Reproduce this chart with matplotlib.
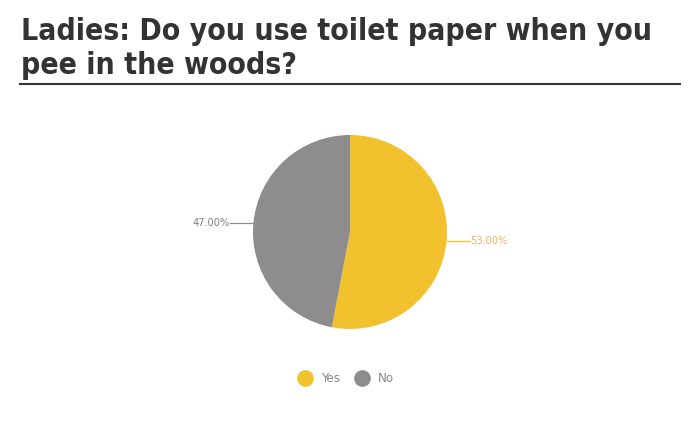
import numpy as np
import matplotlib
matplotlib.use('Agg')
import matplotlib.pyplot as plt
from matplotlib.lines import Line2D

title_lines = ['Ladies: Do you use toilet paper when you', 'pee in the woods?']
labels = ['Yes', 'No']
values = [53.0, 47.0]
colors = ['#F2C12E', '#8E8C8D']
label_colors = ['#F0B35E', '#7F7F7F']

W, H = 700, 422
fig = plt.figure(figsize=(W / 100, H / 100), dpi=100)
fig.patch.set_facecolor('white')

fnt = ['DejaVu Sans']
renderer = fig.canvas.get_renderer()

# title: two lines on fixed baselines, size fitted to the reference width
t1 = fig.text(21 / W, 1 - 40 / H, title_lines[0], ha='left', va='baseline', fontsize=24,
              fontweight='bold', fontstretch='condensed', color='#333333', family=fnt)
w1 = t1.get_window_extent(renderer).width
size = 24 * 633 / w1
t1.set_fontsize(size)
fig.text(21 / W, 1 - 74 / H, title_lines[1], ha='left', va='baseline', fontsize=size,
         fontweight='bold', fontstretch='condensed', color='#333333', family=fnt)
fig.add_artist(Line2D([20 / W, 680 / W], [1 - 83.5 / H, 1 - 83.5 / H],
                      color='#333333', lw=1.5, transform=fig.transFigure))

# pie centre (350, 232), radius 97 px
cx, cy, r = 350, 232, 97
ax = fig.add_axes([(cx - r) / W, (H - cy - r) / H, 2 * r / W, 2 * r / H])
ax.pie(values, colors=colors, startangle=90, counterclock=False, radius=1,
       wedgeprops=dict(linewidth=0))
ax.set_xlim(-1, 1)
ax.set_ylim(-1, 1)
ax.set_aspect('equal')
ax.axis('off')

total = sum(values)
start = 90.0
for v, c, lc in zip(values, colors, label_colors):
    span = v / total * 360
    mid = np.deg2rad(start - span / 2)
    start -= span
    x, y = np.cos(mid), np.sin(mid)
    sgn = 1 if x > 0 else -1
    x2 = x + sgn * 0.24
    ax.plot([x, x2], [y, y], color=c, lw=0.9, clip_on=False)
    ax.text(x2 + sgn * 0.005, y, '%.2f%%' % v, ha='left' if sgn > 0 else 'right',
            va='center', fontsize=7.8, fontstretch='condensed', color=lc, family=fnt)

handles = [Line2D([], [], marker='o', ls='', markersize=11, markerfacecolor=c,
                  markeredgecolor=c) for c in colors]
leg = fig.legend(handles, labels, loc='center', bbox_to_anchor=(343 / W, 1 - 379 / H),
                 ncol=2, frameon=False, handletextpad=0.25, columnspacing=0.6,
                 prop={'family': fnt, 'size': 9.5, 'stretch': 'condensed'})
for t in leg.get_texts():
    t.set_color('#888888')

fig.savefig('out.png', dpi=100)
